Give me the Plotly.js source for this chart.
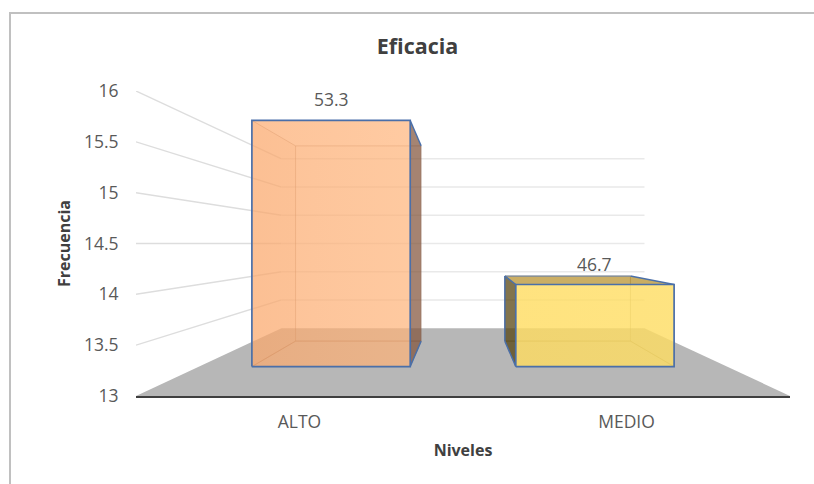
<!DOCTYPE html>
<html>
<head>
<meta charset="utf-8">
<script src="https://cdn.plot.ly/plotly-3.0.1.min.js"></script>
<style>
  html, body { margin: 0; padding: 0; background: #fff; }
  #frame { position: absolute; left: 9px; top: 12px; right: 0; bottom: 0;
           border-left: 2px solid #c0c0c0; border-top: 2px solid #c0c0c0; }
  #chart { position: absolute; left: 0; top: 0; width: 814px; height: 484px; }
</style>
</head>
<body>
<div id="frame"></div>
<div id="chart"></div>
<script>
// Survey results: frequency per level, with the share of respondents as bar labels
const categories = ['ALTO', 'MEDIO'];
const frecuencia = [16, 14];
const porcentaje = [53.3, 46.7];
const yTicks = [13, 13.5, 14, 14.5, 15, 15.5, 16];

// Perspective box: s is the scale at a given depth (1 = front of the box)
const V_BASE = 13, V_HORIZON = 14.5;
const S_FRONT = 1, S_WALL = 0.555, S_BAR_FRONT = 0.807, S_BAR_BACK = 0.64;
const BAR_CENTER = [-0.5, 0.5], BAR_HALF = 0.3;

function project(u, v, s) {
  return [u * s, V_HORIZON + (v - V_HORIZON) * s];
}

function poly(points, fill, line, extra) {
  const closed = points.concat([points[0]]);
  return Object.assign({
    type: 'scatter', mode: line ? 'lines' : 'none',
    x: closed.map(p => p[0]), y: closed.map(p => p[1]),
    fill: fill ? 'toself' : 'none', fillcolor: fill || undefined,
    line: line || { width: 0 }, hoverinfo: 'skip', cliponaxis: false, showlegend: false
  }, extra || {});
}

function edge(a, b, color, width) {
  return {
    type: 'scatter', mode: 'lines', x: [a[0], b[0]], y: [a[1], b[1]],
    line: { color: color, width: width }, hoverinfo: 'skip', cliponaxis: false, showlegend: false
  };
}

const traces = [];

// Gridlines on the side wall and along the back wall
yTicks.filter(v => v > V_BASE).forEach(v => {
  traces.push(edge(project(-1, v, S_FRONT), project(-1, v, S_WALL), '#dddddd', 1.4));
  traces.push(edge(project(-1, v, S_WALL), project(1, v, S_WALL), '#e9e9e9', 1.5));
});

// Floor
traces.push(poly([
  project(-1, V_BASE, S_FRONT), project(1, V_BASE, S_FRONT),
  project(1, V_BASE, S_WALL), project(-1, V_BASE, S_WALL)
], '#b7b7b7'));

const BLUE = '#4a6fa9';
const barStyles = [
  { inner: 'rgba(190,120,70,0.03)', innerLine: 'rgba(130,90,70,0.38)', left: 'rgba(215,125,70,0.10)',
    side: 'rgba(130,85,60,0.72)', top: 'rgba(0,0,0,0)',
    gradient: [[0, 'rgba(252,170,110,0.70)'], [1, 'rgba(255,180,122,0.70)']] },
  { inner: 'rgba(190,150,40,0.02)', innerLine: 'rgba(110,100,60,0.36)', left: 'rgba(82,62,10,0.72)',
    side: 'rgba(180,140,30,0.05)', top: 'rgba(168,121,0,0.60)',
    gradient: [[0, 'rgba(255,220,96,0.80)'], [1, 'rgba(255,222,100,0.80)']] }
];

// Each bar is built back to front so the translucent faces stack correctly
frecuencia.forEach((value, i) => {
  const st = barStyles[i];
  const uL = BAR_CENTER[i] - BAR_HALF, uR = BAR_CENTER[i] + BAR_HALF;
  const c = (u, v, s) => project(u, v, s);
  const fb = S_BAR_FRONT, bk = S_BAR_BACK;

  traces.push(poly([c(uL, V_BASE, bk), c(uR, V_BASE, bk), c(uR, V_BASE, fb), c(uL, V_BASE, fb)],
    st.inner, { color: st.innerLine, width: 1 }));
  traces.push(poly([c(uL, V_BASE, bk), c(uR, V_BASE, bk), c(uR, value, bk), c(uL, value, bk)],
    st.inner, { color: st.innerLine, width: 1 }));
  traces.push(poly([c(uL, V_BASE, fb), c(uL, V_BASE, bk), c(uL, value, bk), c(uL, value, fb)], st.left));
  traces.push(poly([c(uR, V_BASE, fb), c(uR, V_BASE, bk), c(uR, value, bk), c(uR, value, fb)], st.side));
  traces.push(poly([c(uL, value, fb), c(uR, value, fb), c(uR, value, bk), c(uL, value, bk)], st.top));

  // Blue edges on the faces the viewer sees directly
  if (i === 0) {
    traces.push(edge(c(uL, value, fb), c(uL, value, bk), st.innerLine, 1));
    traces.push(edge(c(uL, V_BASE, fb), c(uL, V_BASE, bk), st.innerLine, 1));
    traces.push(edge(c(uR, value, fb), c(uR, value, bk), BLUE, 1.4));
    traces.push(edge(c(uR, V_BASE, fb), c(uR, V_BASE, bk), BLUE, 1.4));
  } else {
    traces.push(edge(c(uR, value, fb), c(uR, value, bk), BLUE, 1.4));
    traces.push(edge(c(uR, V_BASE, fb), c(uR, V_BASE, bk), st.innerLine, 1));
    traces.push(edge(c(uL, value, bk), c(uR, value, bk), '#7d8ba3', 1.2));
    traces.push(edge(c(uL, value, bk), c(uL, V_BASE, bk), BLUE, 1.5));
    traces.push(edge(c(uL, value, fb), c(uL, value, bk), BLUE, 1.5));
    traces.push(edge(c(uL, V_BASE, fb), c(uL, V_BASE, bk), BLUE, 1.5));
  }

  traces.push(poly([c(uL, V_BASE, fb), c(uR, V_BASE, fb), c(uR, value, fb), c(uL, value, fb)],
    st.gradient[1][1], { color: BLUE, width: 1.7 },
    { fillgradient: { type: 'horizontal', colorscale: st.gradient } }));
});

const annotations = frecuencia.map((value, i) => {
  const top = project(BAR_CENTER[i], value, S_BAR_FRONT);
  return {
    x: top[0], y: top[1], text: porcentaje[i].toFixed(1), showarrow: false,
    xanchor: 'center', yanchor: 'middle', yshift: 21,
    font: { family: 'Open Sans, sans-serif', size: 17.5, color: '#595959' }
  };
});

const layout = {
  width: 814, height: 484,
  margin: { l: 136, r: 24, t: 91, b: 88 },
  paper_bgcolor: 'rgba(0,0,0,0)', plot_bgcolor: 'rgba(0,0,0,0)',
  showlegend: false,
  font: { family: 'Open Sans, sans-serif', color: '#595959' },
  title: {
    text: '<b>Eficacia</b>', x: 0.513, xanchor: 'center', y: 0.905, yanchor: 'middle',
    font: { family: 'Open Sans, sans-serif', size: 21.5, color: '#404040' }
  },
  xaxis: {
    range: [-1, 1], tickmode: 'array', tickvals: BAR_CENTER, ticktext: categories,
    showgrid: false, zeroline: false, showline: true, linecolor: '#3f3f3f', linewidth: 2.4,
    ticks: 'outside', ticklen: 9, tickcolor: 'rgba(0,0,0,0)',
    tickfont: { size: 17.5, color: '#595959' }, fixedrange: true,
    title: { text: '<b>Niveles</b>', standoff: 13, font: { size: 16, color: '#404040' } }
  },
  yaxis: {
    range: [13, 16], tickmode: 'array', tickvals: yTicks, ticktext: yTicks.map(String),
    showgrid: false, zeroline: false, showline: false,
    ticks: 'outside', ticklen: 13, tickcolor: 'rgba(0,0,0,0)',
    tickfont: { size: 17.5, color: '#595959' }, fixedrange: true,
    title: { text: '<b>Frecuencia</b>', standoff: 9, font: { size: 16, color: '#404040' } }
  },
  annotations: annotations
};

Plotly.newPlot('chart', traces, layout, { displayModeBar: false, staticPlot: true });
</script>
</body>
</html>
